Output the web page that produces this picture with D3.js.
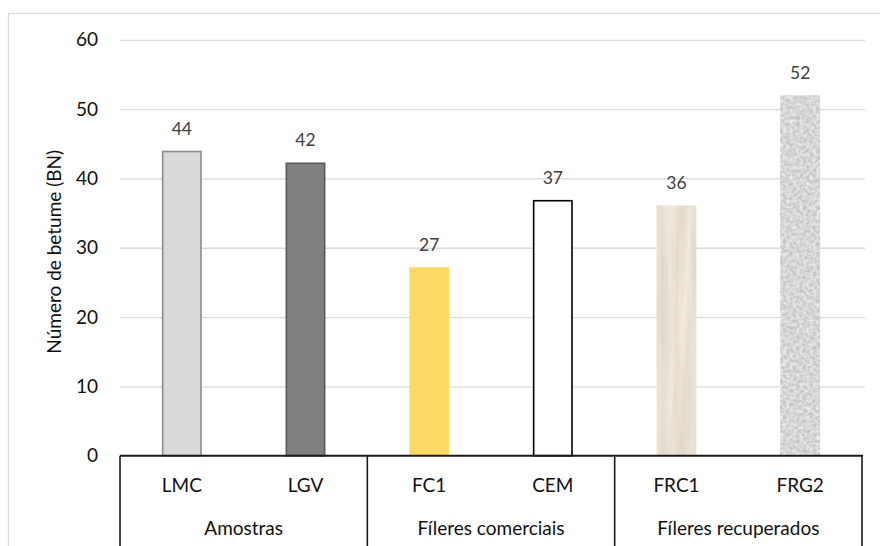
<!DOCTYPE html>
<html>
<head>
<meta charset="utf-8">
<script src="https://cdn.jsdelivr.net/npm/d3@7"></script>
<style>
  html, body { margin: 0; padding: 0; background: #fff; }
  svg { display: block; font-family: Lato, "Open Sans", sans-serif; }
</style>
</head>
<body>
<svg id="chart" width="880" height="546"></svg>
<script>
// ---- data ----
const categories = ["LMC", "LGV", "FC1", "CEM", "FRC1", "FRG2"];
const values = [44.0, 42.3, 27.2, 36.9, 36.1, 52.0];
const valueLabels = ["44", "42", "27", "37", "36", "52"];
const groups = ["Amostras", "Fíleres comerciais", "Fíleres recuperados"];
const groupOfCategory = [0, 0, 1, 1, 2, 2];
const yTicks = [0, 10, 20, 30, 40, 50, 60];
const yTitle = "Número de betume (BN)";

// ---- styles ----
const barFill = ["#d9d9d9", "#7f7f7f", "#ffd966", "#ffffff", "#e8dfd3", "#d3d3d3"];
const barStroke = ["#8c8c8c", "#595959", "none", "#000000", "none", "none"];
const barFilter = [null, null, null, null, "url(#woodTex)", "url(#graniteTex)"];

const svg = d3.select("#chart");
const W = 880, H = 546;
const plot = { left: 120, right: 862, top: 39.8, bottom: 455.7 };

// outer chart border
svg.append("rect")
  .attr("x", 8.5).attr("y", 13.5)
  .attr("width", 900).attr("height", 600)
  .attr("fill", "#fff").attr("stroke", "#d9d9d9").attr("stroke-width", 1.3);

// textures
const defs = svg.append("defs");
function texture(id, freq, octaves, seed, rows) {
  const f = defs.append("filter").attr("id", id)
    .attr("x", 0).attr("y", 0).attr("width", 1).attr("height", 1)
    .attr("color-interpolation-filters", "sRGB");
  f.append("feTurbulence").attr("type", "fractalNoise")
    .attr("baseFrequency", freq).attr("numOctaves", octaves).attr("seed", seed).attr("result", "noise");
  f.append("feColorMatrix").attr("in", "noise").attr("type", "matrix")
    .attr("values", rows).attr("result", "tint");
  f.append("feComposite").attr("in", "tint").attr("in2", "SourceGraphic").attr("operator", "in");
}
texture("woodTex", "0.12 0.008", 3, 4,
  "0.12 0 0 0 0.855  0.12 0 0 0 0.82  0.12 0 0 0 0.77  0 0 0 0 1");
texture("graniteTex", "0.3", 3, 7,
  "0.3 0 0 0 0.69  0.3 0 0 0 0.69  0.3 0 0 0 0.70  0 0 0 0 1");

const x = d3.scaleBand()
  .domain(categories)
  .range([plot.left, plot.right])
  .paddingInner(0.677)
  .paddingOuter(0.677 / 2);

const y = d3.scaleLinear().domain([0, 60]).range([plot.bottom, plot.top]);

// gridlines
const grid = svg.append("g")
  .attr("transform", `translate(${plot.left},0)`)
  .call(d3.axisLeft(y).tickValues(yTicks.filter(d => d > 0)).tickSize(-(plot.right + 3 - plot.left)).tickFormat(""));
grid.select(".domain").remove();
grid.selectAll("line").attr("stroke", "#d9d9d9").attr("stroke-width", 1.3);

// y tick labels
const yAxis = svg.append("g")
  .attr("transform", `translate(${plot.left},0)`)
  .call(d3.axisLeft(y).tickValues(yTicks).tickSize(0).tickPadding(22));
yAxis.select(".domain").remove();
yAxis.selectAll("text")
  .attr("font-family", "Lato, 'Open Sans', sans-serif")
  .attr("font-size", 19).attr("fill", "#111");

// y title
svg.append("text")
  .attr("transform", `translate(61,${(plot.top + plot.bottom) / 2 + 4}) rotate(-90)`)
  .attr("text-anchor", "middle")
  .attr("font-size", 19).attr("fill", "#111")
  .text(yTitle);

// bars
const barsG = svg.append("g");
categories.forEach((c, i) => {
  const sw = barStroke[i] === "none" ? 0 : 1.6;
  const r = barsG.append("rect")
    .attr("x", x(c) + sw / 2)
    .attr("y", y(values[i]) + sw / 2)
    .attr("width", x.bandwidth() - sw)
    .attr("height", y(0) - y(values[i]) - sw / 2)
    .attr("fill", barFill[i])
    .attr("stroke", barStroke[i])
    .attr("stroke-width", sw);
  if (barFilter[i]) r.attr("filter", barFilter[i]);
});

// value labels
svg.append("g").selectAll("text")
  .data(categories)
  .join("text")
  .attr("x", d => x(d) + x.bandwidth() / 2)
  .attr("y", (d, i) => y(values[i]) - 16)
  .attr("text-anchor", "middle")
  .attr("font-size", 17.5)
  .attr("fill", "#404040")
  .text((d, i) => valueLabels[i]);

// x axis baseline
svg.append("line")
  .attr("x1", plot.left).attr("x2", plot.right + 1)
  .attr("y1", plot.bottom).attr("y2", plot.bottom)
  .attr("stroke", "#1a1a1a").attr("stroke-width", 2);

// category labels
svg.append("g").selectAll("text")
  .data(categories)
  .join("text")
  .attr("x", d => x(d) + x.bandwidth() / 2)
  .attr("y", 492)
  .attr("text-anchor", "middle")
  .attr("font-size", 19).attr("fill", "#111")
  .text(d => d);

// group separators and labels
const groupBounds = groups.map((g, gi) => {
  const cats = categories.filter((c, i) => groupOfCategory[i] === gi);
  const x0 = x(cats[0]) - x.step() * x.paddingInner() / 2;
  const last = cats[cats.length - 1];
  const x1 = x(last) + x.bandwidth() + x.step() * x.paddingInner() / 2;
  return { name: g, x0, x1 };
});
const sepXs = [groupBounds[0].x0].concat(groupBounds.map(b => b.x1));
svg.append("g").selectAll("line")
  .data(sepXs)
  .join("line")
  .attr("x1", d => d).attr("x2", d => d)
  .attr("y1", plot.bottom).attr("y2", H)
  .attr("stroke", "#1a1a1a").attr("stroke-width", 1.6);

svg.append("g").selectAll("text")
  .data(groupBounds)
  .join("text")
  .attr("x", d => (d.x0 + d.x1) / 2)
  .attr("y", 535)
  .attr("text-anchor", "middle")
  .attr("font-size", 19).attr("fill", "#111")
  .text(d => d.name);
</script>
</body>
</html>
